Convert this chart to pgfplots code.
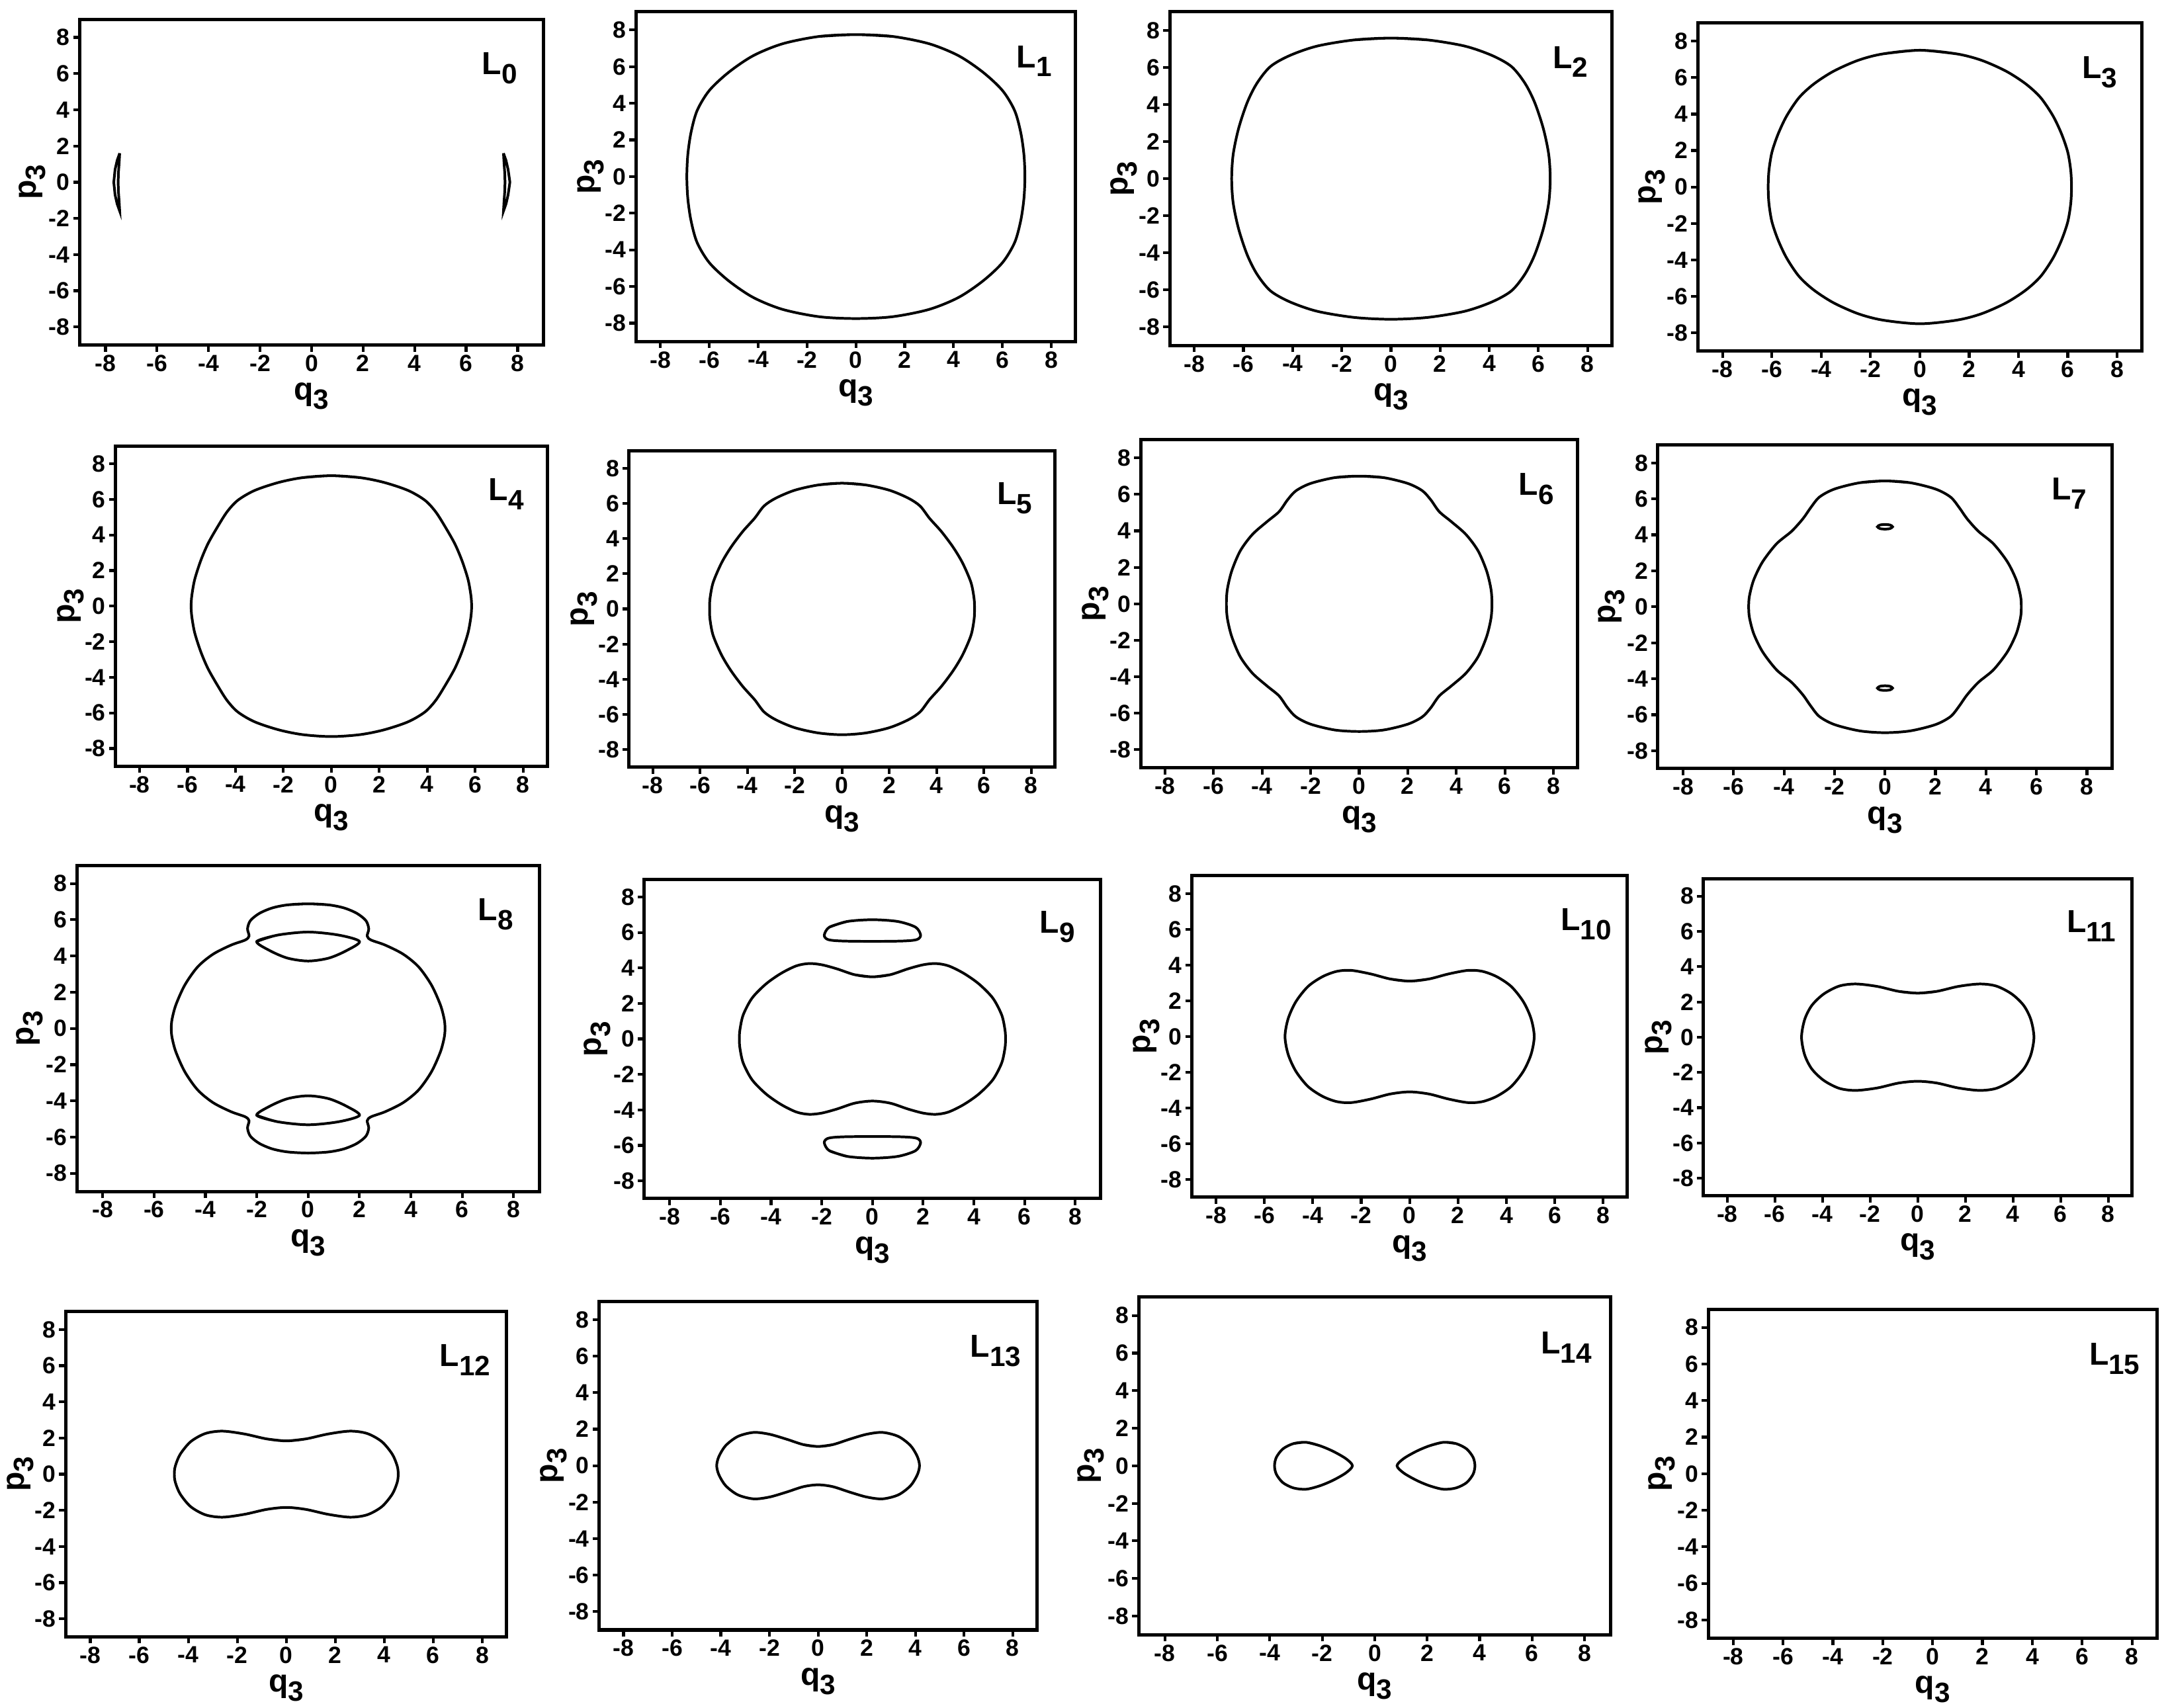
\documentclass[border=0pt]{standalone}
\usepackage{fontspec}
\setmainfont{Liberation Sans Bold}
\usepackage{pgfplots}
\pgfplotsset{compat=1.18}

\newcommand{\sub}[1]{\raisebox{-0.55ex}{\scalebox{0.88}{#1}}}
\newcommand{\Lab}[1]{\node[font=\fontsize{11.5}{12}\selectfont] at (axis cs:7.3,6.3) {L\sub{#1}};}

\pgfplotsset{
  panel/.style={
    scale only axis, anchor=south west,
    xmin=-9, xmax=9, ymin=-9, ymax=9,
    xtick={-8,-6,...,8}, ytick={-8,-6,...,8},
    tick align=outside, xtick pos=left, ytick pos=left,
    axis line style={line width=1.2pt},
    major tick length=2.4pt,
    major tick style={black, line width=1pt},
    tick label style={font=\fontsize{8.5}{9}\selectfont, inner sep=1pt},
    /pgf/number format/assume math mode=true,
    xlabel={q\sub{3}}, ylabel={p\sub{3}},
    every axis x label/.style={at={(axis description cs:0.5,0)}, anchor=north,
      yshift=-12.5pt, inner sep=1pt, font=\fontsize{11.5}{12}\selectfont},
    every axis y label/.style={at={(axis description cs:-0.066,0.5)}, rotate=90,
      anchor=south, inner sep=1pt, font=\fontsize{11.5}{12}\selectfont},
  },
  curve/.style={black, line width=0.95pt, mark=none, smooth},
}

\begin{document}
\begin{tikzpicture}
\path[use as bounding box] (0,0) rectangle (784pt,617.5pt);

% ---- row 1 ----
\begin{axis}[panel, at={(28.85pt,492.7pt)}, width=167.65pt, height=117.8pt]
\addplot[black, line width=0.95pt, mark=none] coordinates {
 (-7.45,1.6) (-7.55,1.2) (-7.63,0.7) (-7.68,0) (-7.63,-0.7) (-7.55,-1.2) (-7.45,-1.6)
 (-7.47,-1.1) (-7.5,-0.5) (-7.51,0) (-7.5,0.5) (-7.47,1.1) (-7.45,1.6)};
\addplot[black, line width=0.95pt, mark=none] coordinates {
 (7.45,1.6) (7.55,1.2) (7.63,0.7) (7.7,0) (7.63,-0.7) (7.55,-1.2) (7.45,-1.6)
 (7.47,-1.1) (7.5,-0.5) (7.51,0) (7.5,0.5) (7.47,1.1) (7.45,1.6)};
\Lab{0}
\end{axis}

\begin{axis}[panel, at={(230pt,494pt)}, width=159pt, height=119.25pt]
\addplot[curve] coordinates {
 (-1.5,7.65) (0,7.75) (1.5,7.65) (3,7.25) (4.2,6.6) (5.2,5.7) (6,4.7) (6.5,3.6) (6.75,2.4) (6.88,1.2) (6.92,0)
 (6.88,-1.2) (6.75,-2.4) (6.5,-3.6) (6,-4.7) (5.2,-5.7) (4.2,-6.6) (3,-7.25) (1.5,-7.65) (0,-7.75)
 (-1.5,-7.65) (-3,-7.25) (-4.2,-6.6) (-5.2,-5.7) (-6,-4.7) (-6.5,-3.6) (-6.75,-2.4) (-6.88,-1.2) (-6.92,0)
 (-6.88,1.2) (-6.75,2.4) (-6.5,3.6) (-6,4.7) (-5.2,5.7) (-4.2,6.6) (-3,7.25) (-1.5,7.65) (0,7.75) (1.5,7.65)};
\Lab{1}
\end{axis}

\begin{axis}[panel, at={(423pt,492.5pt)}, width=160pt, height=120.75pt]
\addplot[curve] coordinates {
 (-1.5,7.48) (0,7.58) (1.5,7.48) (3,7.15) (4.1,6.65) (4.9,6.05) (5.45,5.15) (5.85,4.1) (6.2,2.7) (6.42,1.3) (6.48,0)
 (6.42,-1.3) (6.2,-2.7) (5.85,-4.1) (5.45,-5.15) (4.9,-6.05) (4.1,-6.65) (3,-7.15) (1.5,-7.48) (0,-7.58)
 (-1.5,-7.48) (-3,-7.15) (-4.1,-6.65) (-4.9,-6.05) (-5.45,-5.15) (-5.85,-4.1) (-6.2,-2.7) (-6.42,-1.3) (-6.48,0)
 (-6.42,1.3) (-6.2,2.7) (-5.85,4.1) (-5.45,5.15) (-4.9,6.05) (-4.1,6.65) (-3,7.15) (-1.5,7.48) (0,7.58) (1.5,7.48)};
\Lab{2}
\end{axis}

\begin{axis}[panel, at={(614pt,490.5pt)}, width=160.5pt, height=118.7pt]
\addplot[curve] coordinates {
 (-1.5,7.3) (0,7.5) (1.5,7.3) (2.5,6.95) (3.5,6.35) (4.3,5.65) (4.9,4.9) (5.4,3.9) (5.75,2.9) (6,1.9) (6.12,0.9) (6.15,0)
 (6.12,-0.9) (6,-1.9) (5.75,-2.9) (5.4,-3.9) (4.9,-4.9) (4.3,-5.65) (3.5,-6.35) (2.5,-6.95) (1.5,-7.3) (0,-7.5)
 (-1.5,-7.3) (-2.5,-6.95) (-3.5,-6.35) (-4.3,-5.65) (-4.9,-4.9) (-5.4,-3.9) (-5.75,-2.9) (-6,-1.9) (-6.12,-0.9) (-6.15,0)
 (-6.12,0.9) (-6,1.9) (-5.75,2.9) (-5.4,3.9) (-4.9,4.9) (-4.3,5.65) (-3.5,6.35) (-2.5,6.95) (-1.5,7.3) (0,7.5) (1.5,7.3)};
\Lab{3}
\end{axis}

% ---- row 2 ----
\begin{axis}[panel, at={(41.8pt,340.35pt)}, width=156.05pt, height=115.85pt]
\addplot[curve] coordinates {
 (-1.2,7.22) (0,7.33) (1.2,7.22) (2.2,6.95) (3.2,6.5) (3.9,5.95) (4.35,5.3) (4.75,4.45) (5.15,3.5) (5.45,2.55) (5.7,1.5) (5.82,0.6) (5.85,0)
 (5.82,-0.6) (5.7,-1.5) (5.45,-2.55) (5.15,-3.5) (4.75,-4.45) (4.35,-5.3) (3.9,-5.95) (3.2,-6.5) (2.2,-6.95) (1.2,-7.22) (0,-7.33)
 (-1.2,-7.22) (-2.2,-6.95) (-3.2,-6.5) (-3.9,-5.95) (-4.35,-5.3) (-4.75,-4.45) (-5.15,-3.5) (-5.45,-2.55) (-5.7,-1.5) (-5.82,-0.6) (-5.85,0)
 (-5.82,0.6) (-5.7,1.5) (-5.45,2.55) (-5.15,3.5) (-4.75,4.45) (-4.35,5.3) (-3.9,5.95) (-3.2,6.5) (-2.2,6.95) (-1.2,7.22) (0,7.33) (1.2,7.22)};
\Lab{4}
\end{axis}

\begin{axis}[panel, at={(227.5pt,340pt)}, width=154pt, height=114.5pt]
\addplot[curve] coordinates {
 (-1,7.05) (0,7.15) (1,7.05) (2,6.75) (2.8,6.3) (3.3,5.85) (3.7,5.15) (4.2,4.4) (4.7,3.5) (5.1,2.6) (5.45,1.5) (5.58,0.6) (5.6,0)
 (5.58,-0.6) (5.45,-1.5) (5.1,-2.6) (4.7,-3.5) (4.2,-4.4) (3.7,-5.15) (3.3,-5.85) (2.8,-6.3) (2,-6.75) (1,-7.05) (0,-7.15)
 (-1,-7.05) (-2,-6.75) (-2.8,-6.3) (-3.3,-5.85) (-3.7,-5.15) (-4.2,-4.4) (-4.7,-3.5) (-5.1,-2.6) (-5.45,-1.5) (-5.58,-0.6) (-5.6,0)
 (-5.58,0.6) (-5.45,1.5) (-5.1,2.6) (-4.7,3.5) (-4.2,4.4) (-3.7,5.15) (-3.3,5.85) (-2.8,6.3) (-2,6.75) (-1,7.05) (0,7.15) (1,7.05)};
\Lab{5}
\end{axis}

\begin{axis}[panel, at={(412.5pt,339.75pt)}, width=158pt, height=118.75pt]
\addplot[curve] coordinates {
 (-1,6.92) (0,7) (1,6.92) (2,6.6) (2.6,6.2) (2.95,5.7) (3.3,5.05) (3.8,4.5) (4.4,3.8) (4.9,2.9) (5.25,1.8) (5.43,0.8) (5.47,0)
 (5.43,-0.8) (5.25,-1.8) (4.9,-2.9) (4.4,-3.8) (3.8,-4.5) (3.3,-5.05) (2.95,-5.7) (2.6,-6.2) (2,-6.6) (1,-6.92) (0,-7)
 (-1,-6.92) (-2,-6.6) (-2.6,-6.2) (-2.95,-5.7) (-3.3,-5.05) (-3.8,-4.5) (-4.4,-3.8) (-4.9,-2.9) (-5.25,-1.8) (-5.43,-0.8) (-5.47,0)
 (-5.43,0.8) (-5.25,1.8) (-4.9,2.9) (-4.4,3.8) (-3.8,4.5) (-3.3,5.05) (-2.95,5.7) (-2.6,6.2) (-2,6.6) (-1,6.92) (0,7) (1,6.92)};
\Lab{6}
\end{axis}

\begin{axis}[panel, at={(599.5pt,339.5pt)}, width=164.3pt, height=117.05pt]
\addplot[curve] coordinates {
 (-1,6.9) (0,7) (1,6.9) (2,6.55) (2.6,6.1) (2.95,5.5) (3.25,4.9) (3.7,4.2) (4.3,3.5) (4.85,2.5) (5.2,1.5) (5.37,0.6) (5.4,0)
 (5.37,-0.6) (5.2,-1.5) (4.85,-2.5) (4.3,-3.5) (3.7,-4.2) (3.25,-4.9) (2.95,-5.5) (2.6,-6.1) (2,-6.55) (1,-6.9) (0,-7)
 (-1,-6.9) (-2,-6.55) (-2.6,-6.1) (-2.95,-5.5) (-3.25,-4.9) (-3.7,-4.2) (-4.3,-3.5) (-4.85,-2.5) (-5.2,-1.5) (-5.37,-0.6) (-5.4,0)
 (-5.37,0.6) (-5.2,1.5) (-4.85,2.5) (-4.3,3.5) (-3.7,4.2) (-3.25,4.9) (-2.95,5.5) (-2.6,6.1) (-2,6.55) (-1,6.9) (0,7) (1,6.9)};
\addplot[curve] coordinates {
 (-0.2,4.55) (0,4.58) (0.2,4.55) (0.3,4.45) (0.2,4.35) (0,4.32) (-0.2,4.35) (-0.3,4.45) (-0.2,4.55) (0,4.58) (0.2,4.55)};
\addplot[curve] coordinates {
 (-0.2,-4.42) (0,-4.39) (0.2,-4.42) (0.3,-4.52) (0.2,-4.62) (0,-4.65) (-0.2,-4.62) (-0.3,-4.52) (-0.2,-4.42) (0,-4.39) (0.2,-4.42)};
\Lab{7}
\end{axis}

% ---- row 3 ----
\begin{axis}[panel, at={(27.85pt,186.6pt)}, width=167.15pt, height=117.9pt]
\addplot[curve] coordinates {
 (-0.8,6.82) (0,6.88) (0.8,6.82) (1.4,6.65) (1.9,6.35) (2.25,5.95) (2.36,5.5) (2.3,5.1) (2.45,4.88) (3,4.6) (3.7,4.1) (4.3,3.4) (4.8,2.4) (5.15,1.3) (5.3,0.5) (5.33,0)
 (5.3,-0.5) (5.15,-1.3) (4.8,-2.4) (4.3,-3.4) (3.7,-4.1) (3,-4.6) (2.45,-4.88) (2.3,-5.1) (2.36,-5.5) (2.25,-5.95) (1.9,-6.35) (1.4,-6.65) (0.8,-6.82) (0,-6.88)
 (-0.8,-6.82) (-1.4,-6.65) (-1.9,-6.35) (-2.25,-5.95) (-2.36,-5.5) (-2.3,-5.1) (-2.45,-4.88) (-3,-4.6) (-3.7,-4.1) (-4.3,-3.4) (-4.8,-2.4) (-5.15,-1.3) (-5.3,-0.5) (-5.33,0)
 (-5.3,0.5) (-5.15,1.3) (-4.8,2.4) (-4.3,3.4) (-3.7,4.1) (-3,4.6) (-2.45,4.88) (-2.3,5.1) (-2.36,5.5) (-2.25,5.95) (-1.9,6.35) (-1.4,6.65) (-0.8,6.82) (0,6.88) (0.8,6.82)};
\addplot[curve] coordinates {
 (-2,4.8) (-1.2,5.15) (0,5.32) (1.2,5.15) (2,4.8) (1.5,4.3) (0.8,3.88) (0,3.72) (-0.8,3.88) (-1.5,4.3) (-2,4.8) (-1.2,5.15)};
\addplot[curve] coordinates {
 (-2,-4.8) (-1.2,-5.15) (0,-5.32) (1.2,-5.15) (2,-4.8) (1.5,-4.3) (0.8,-3.88) (0,-3.72) (-0.8,-3.88) (-1.5,-4.3) (-2,-4.8) (-1.2,-5.15)};
\Lab{8}
\end{axis}

\begin{axis}[panel, at={(233pt,184pt)}, width=165pt, height=115.5pt]
\addplot[curve] coordinates {
 (-0.7,3.62) (0,3.5) (0.7,3.62) (1.4,3.95) (2,4.18) (2.5,4.25) (3,4.12) (3.6,3.7) (4.2,3.1) (4.75,2.3) (5.1,1.35) (5.23,0.5) (5.25,0)
 (5.23,-0.5) (5.1,-1.35) (4.75,-2.3) (4.2,-3.1) (3.6,-3.7) (3,-4.12) (2.5,-4.25) (2,-4.18) (1.4,-3.95) (0.7,-3.62) (0,-3.5)
 (-0.7,-3.62) (-1.4,-3.95) (-2,-4.18) (-2.5,-4.25) (-3,-4.12) (-3.6,-3.7) (-4.2,-3.1) (-4.75,-2.3) (-5.1,-1.35) (-5.23,-0.5) (-5.25,0)
 (-5.23,0.5) (-5.1,1.35) (-4.75,2.3) (-4.2,3.1) (-3.6,3.7) (-3,4.12) (-2.5,4.25) (-2,4.18) (-1.4,3.95) (-0.7,3.62) (0,3.5) (0.7,3.62)};
\addplot[curve] coordinates {
 (-1.7,6.3) (-1,6.62) (0,6.72) (1,6.62) (1.7,6.3) (1.9,5.85) (1.75,5.6) (1.2,5.52) (0,5.5) (-1.2,5.52) (-1.75,5.6) (-1.9,5.85) (-1.7,6.3) (-1,6.62)};
\addplot[curve] coordinates {
 (-1.7,-6.3) (-1,-6.62) (0,-6.72) (1,-6.62) (1.7,-6.3) (1.9,-5.85) (1.75,-5.6) (1.2,-5.52) (0,-5.5) (-1.2,-5.52) (-1.75,-5.6) (-1.9,-5.85) (-1.7,-6.3) (-1,-6.62)};
\Lab{9}
\end{axis}

\begin{axis}[panel, at={(431pt,184.5pt)}, width=157.5pt, height=116.25pt]
\addplot[curve] coordinates {
 (-0.8,3.22) (0,3.1) (0.8,3.22) (1.6,3.5) (2.4,3.7) (3,3.65) (3.6,3.35) (4.2,2.8) (4.7,1.95) (5.02,1) (5.15,0)
 (5.02,-1) (4.7,-1.95) (4.2,-2.8) (3.6,-3.35) (3,-3.65) (2.4,-3.7) (1.6,-3.5) (0.8,-3.22) (0,-3.1)
 (-0.8,-3.22) (-1.6,-3.5) (-2.4,-3.7) (-3,-3.65) (-3.6,-3.35) (-4.2,-2.8) (-4.7,-1.95) (-5.02,-1) (-5.15,0)
 (-5.02,1) (-4.7,1.95) (-4.2,2.8) (-3.6,3.35) (-3,3.65) (-2.4,3.7) (-1.6,3.5) (-0.8,3.22) (0,3.1) (0.8,3.22)};
\Lab{10}
\end{axis}

\begin{axis}[panel, at={(616pt,185pt)}, width=155pt, height=114.75pt]
\addplot[curve] coordinates {
 (-0.8,2.6) (0,2.5) (0.8,2.6) (1.7,2.88) (2.6,3.02) (3.3,2.9) (3.95,2.45) (4.45,1.8) (4.75,1) (4.88,0)
 (4.75,-1) (4.45,-1.8) (3.95,-2.45) (3.3,-2.9) (2.6,-3.02) (1.7,-2.88) (0.8,-2.6) (0,-2.5)
 (-0.8,-2.6) (-1.7,-2.88) (-2.6,-3.02) (-3.3,-2.9) (-3.95,-2.45) (-4.45,-1.8) (-4.75,-1) (-4.88,0)
 (-4.75,1) (-4.45,1.8) (-3.95,2.45) (-3.3,2.9) (-2.6,3.02) (-1.7,2.88) (-0.8,2.6) (0,2.5) (0.8,2.6)};
\Lab{11}
\end{axis}

% ---- row 4 ----
\begin{axis}[panel, at={(23.8pt,25.5pt)}, width=159.45pt, height=117.7pt]
\addplot[curve] coordinates {
 (-0.8,1.95) (0,1.84) (0.8,1.95) (1.7,2.22) (2.6,2.38) (3.3,2.25) (3.9,1.8) (4.33,1.1) (4.53,0.45) (4.57,0)
 (4.53,-0.45) (4.33,-1.1) (3.9,-1.8) (3.3,-2.25) (2.6,-2.38) (1.7,-2.22) (0.8,-1.95) (0,-1.84)
 (-0.8,-1.95) (-1.7,-2.22) (-2.6,-2.38) (-3.3,-2.25) (-3.9,-1.8) (-4.33,-1.1) (-4.53,-0.45) (-4.57,0)
 (-4.53,0.45) (-4.33,1.1) (-3.9,1.8) (-3.3,2.25) (-2.6,2.38) (-1.7,2.22) (-0.8,1.95) (0,1.84) (0.8,1.95)};
\Lab{12}
\end{axis}

\begin{axis}[panel, at={(216.7pt,28pt)}, width=158.3pt, height=118.85pt]
\addplot[curve] coordinates {
 (-0.6,1.15) (0,1.05) (0.6,1.15) (1.3,1.45) (2,1.72) (2.65,1.82) (3.3,1.6) (3.8,1.1) (4.08,0.5) (4.17,0)
 (4.08,-0.5) (3.8,-1.1) (3.3,-1.6) (2.65,-1.82) (2,-1.72) (1.3,-1.45) (0.6,-1.15) (0,-1.05)
 (-0.6,-1.15) (-1.3,-1.45) (-2,-1.72) (-2.65,-1.82) (-3.3,-1.6) (-3.8,-1.1) (-4.08,-0.5) (-4.17,0)
 (-4.08,0.5) (-3.8,1.1) (-3.3,1.6) (-2.65,1.82) (-2,1.72) (-1.3,1.45) (-0.6,1.15) (0,1.05) (0.6,1.15)};
\Lab{13}
\end{axis}

\begin{axis}[panel, at={(411.75pt,26.25pt)}, width=170.75pt, height=122.25pt]
\addplot[curve] coordinates {
 (2.1,1.07) (2.62,1.25) (3.1,1.18) (3.5,0.9) (3.75,0.45) (3.82,0) (3.75,-0.45) (3.5,-0.9) (3.1,-1.18) (2.62,-1.25)
 (2.1,-1.07) (1.6,-0.78) (1.1,-0.38) (0.85,0) (1.1,0.38) (1.6,0.78) (2.1,1.07) (2.62,1.25) (3.1,1.18)};
\addplot[curve] coordinates {
 (-2.1,1.07) (-2.62,1.25) (-3.1,1.18) (-3.5,0.9) (-3.75,0.45) (-3.82,0) (-3.75,-0.45) (-3.5,-0.9) (-3.1,-1.18) (-2.62,-1.25)
 (-2.1,-1.07) (-1.6,-0.78) (-1.1,-0.38) (-0.85,0) (-1.1,0.38) (-1.6,0.78) (-2.1,1.07) (-2.62,1.25) (-3.1,1.18)};
\Lab{14}
\end{axis}

\begin{axis}[panel, at={(617.75pt,25pt)}, width=162.25pt, height=119pt]
\Lab{15}
\end{axis}

\end{tikzpicture}
\end{document}
